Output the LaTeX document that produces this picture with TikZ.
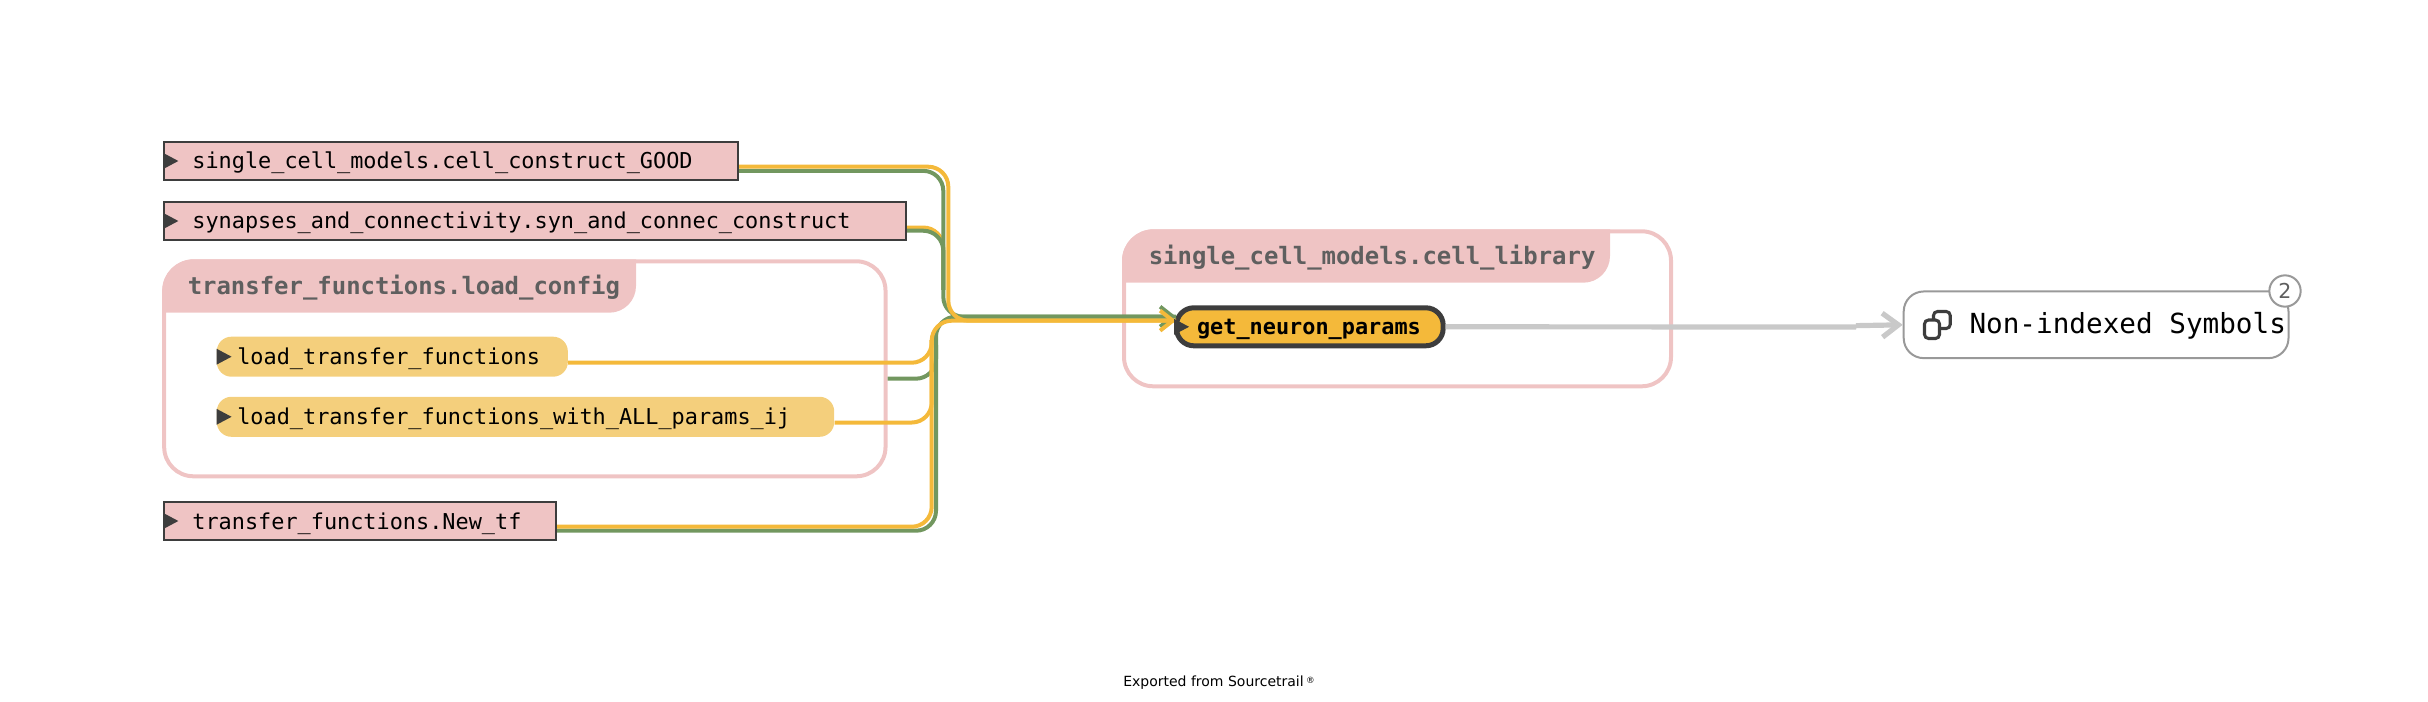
\documentclass[tikz,border=0pt]{standalone}
\usepackage{fontspec}
\setmainfont{DejaVu Sans}
\setmonofont{DejaVu Sans Mono}
\usetikzlibrary{arrows.meta}
\definecolor{pinkfill}{HTML}{EFC4C4}
\definecolor{softyellow}{HTML}{F4CF7C}
\definecolor{edgeyellow}{HTML}{F4B93A}
\definecolor{edgegreen}{HTML}{72975F}
\definecolor{edgegray}{HTML}{C9C9C9}
\definecolor{darkline}{HTML}{3D3D3D}
\definecolor{titlegray}{HTML}{5F5F5F}
\definecolor{framegray}{HTML}{999999}
\tikzset{
  codefont/.style={font=\ttfamily\fontsize{16.4}{20}\selectfont, text height=14.5pt, text depth=2.5pt},
  filebox/.style={codefont, draw=darkline, line width=1.6pt, fill=pinkfill, anchor=west, align=left, inner xsep=21pt, minimum height=29pt, text width=#1},
  funcbox/.style={codefont, fill=softyellow, rounded corners=11pt, anchor=west, align=left, inner xsep=15.4pt, minimum height=30pt, text width=#1},
  groupframe/.style={draw=pinkfill, line width=3pt, rounded corners=22pt},
  grouptab/.style={fill=pinkfill},
  grouptitle/.style={font=\ttfamily\bfseries\fontsize{17.95}{20}\selectfont, text=titlegray, anchor=base west, inner sep=0pt},
  yellowedge/.style={draw=edgeyellow, line width=3pt, rounded corners=15pt},
  greenedge/.style={draw=edgegreen, line width=3pt, rounded corners=15pt},
  grayedge/.style={draw=edgegray, line width=3.9pt},
  barb/.style={-{Straight Barb[length=9.5pt,width=15pt]}},
  playmark/.style={fill=darkline}
}
\begin{document}
\begin{tikzpicture}[x=0.75pt, y=-0.75pt]
  \useasboundingbox (0,0) rectangle (2428,702);

  % Group frames with their tabs
  \node[groupframe, minimum width=541pt, minimum height=161.25pt] (loadconfig) at (524.85,368.8) {};
  \node[groupframe, minimum width=410.25pt, minimum height=116.25pt] (celllibrary) at (1397.5,308.8) {};
  \fill[grouptab] (162.3,312.7) [rounded corners=24pt] -- (162.3,259.3) [sharp corners] -- (636,259.3) [rounded corners=20pt] -- (636,312.7) [sharp corners] -- cycle;
  \fill[grouptab] (1122,282.7) [rounded corners=24pt] -- (1122,229.3) [sharp corners] -- (1610,229.3) [rounded corners=20pt] -- (1610,282.7) [sharp corners] -- cycle;
  \node[grouptitle] (loadtitle) at (187.5,295) {transfer\_functions.load\_config};
  \node[grouptitle] (librarytitle) at (1148.5,264.3) {single\_cell\_models.cell\_library};

  % Symbols
  \node[filebox=388.2pt] (cellconstruct) at (163.3,161) {single\_cell\_models.cell\_construct\_GOOD};
  \node[filebox=514.2pt] (synconstruct) at (163.3,221) {synapses\_and\_connectivity.syn\_and\_connec\_construct};
  \node[filebox=251.7pt] (newtf) at (163.3,521) {transfer\_functions.New\_tf};
  \node[funcbox=232.5pt] (loadtf) at (216.5,356.7) {load\_transfer\_functions};
  \node[funcbox=432.3pt] (loadall) at (216.5,416.8) {load\_transfer\_functions\_with\_ALL\_params\_ij};
  \node[codefont, font=\ttfamily\bfseries\fontsize{16.4}{20}\selectfont, draw=darkline, line width=3.75pt, fill=edgeyellow, rounded corners=13pt, anchor=west, align=left, inner xsep=15.4pt, minimum height=28.5pt, text width=169.2pt] (getneuron) at (1174,326.8) {get\_neuron\_params};
  \node[draw=framegray, line width=1.5pt, rounded corners=15pt, anchor=west, align=right, font=\ttfamily\fontsize{20.75}{24}\selectfont, text height=15.8pt, text depth=3.4pt, inner xsep=1.9pt, minimum height=50pt, text width=284.8pt] (nonindexed) at (1902.7,324.8) {Non-indexed\hspace{0.602em}Symbols};
  \node[circle, draw=framegray, line width=1.5pt, fill=white, text=titlegray, inner sep=0pt, minimum size=23.5pt, font=\fontsize{15.4}{17}\selectfont] (badge) at (2285,291) {2};

  % Stacked squares in front of the label
  \draw[darkline, line width=2.3pt, rounded corners=3pt] (1924.5,320) rectangle (1939.5,338.5);
  \draw[darkline, line width=2.3pt, rounded corners=3pt] (1933.5,319) -- (1933.5,311.5) -- (1950.2,311.5) -- (1950.2,328.5) -- (1941,328.5);

  % Bus coordinates of the edges
  \coordinate (upgreen) at (943.3,316.7);
  \coordinate (upyellow) at (948.3,320.7);
  \coordinate (lowgreen) at (936,316.7);
  \coordinate (lowyellow) at (931.7,320.7);
  \coordinate (upjoin) at (943.3,290);
  \coordinate (stubjoin) at (936,345);
  \coordinate (lowjoin) at (931.7,340);
  \coordinate (grayjog) at (1856,327);

  % Edges to get_neuron_params
  \draw[yellowedge] ([yshift=-4.9pt]synconstruct.east) -| (upjoin);
  \draw[greenedge] ([yshift=-7.4pt]cellconstruct.east) -| (upgreen) -- ([xshift=1.5pt,yshift=7.6pt]getneuron.west);
  \draw[greenedge] ([yshift=-7.3pt]synconstruct.east) -| (upjoin);
  \draw[greenedge] ([yshift=-7.4pt]loadconfig.east) -| (stubjoin);
  \draw[greenedge, barb] ([yshift=-7.3pt]newtf.east) -| (lowgreen) -- ([xshift=1.5pt,yshift=7.6pt]getneuron.west);
  \draw[yellowedge, barb] ([yshift=-4.3pt]cellconstruct.east) -| (upyellow) -- ([xshift=1.5pt,yshift=4.6pt]getneuron.west);
  \draw[yellowedge] ([yshift=-4.5pt]loadtf.east) -| (lowjoin);
  \draw[yellowedge] ([yshift=-4.3pt]loadall.east) -| (lowjoin);
  \draw[yellowedge] ([yshift=-4.3pt]newtf.east) -| (lowyellow) -- ([xshift=1.5pt,yshift=4.6pt]getneuron.west);

  % Edge to the non-indexed symbols
  \draw[grayedge] (getneuron.east) -- (grayjog);
  \draw[grayedge, -{Straight Barb[length=12pt,width=18pt]}] ([yshift=1pt]grayjog) -- (nonindexed.west);

  % Expand marks on the symbols
  \foreach \n in {cellconstruct,synconstruct,newtf,loadtf,loadall,getneuron} {
    \fill[playmark] ([yshift=6pt]\n.west) -- ([xshift=11.3pt]\n.west) -- ([yshift=-6pt]\n.west) -- cycle;
  }

  \node[font=\fontsize{10.5}{12}\selectfont, inner sep=0pt] (exported) at (1219,683) {Exported from Sourcetrail\,\raisebox{0.5ex}{\fontsize{6.5}{7}\selectfont ®}};
\end{tikzpicture}
\end{document}
